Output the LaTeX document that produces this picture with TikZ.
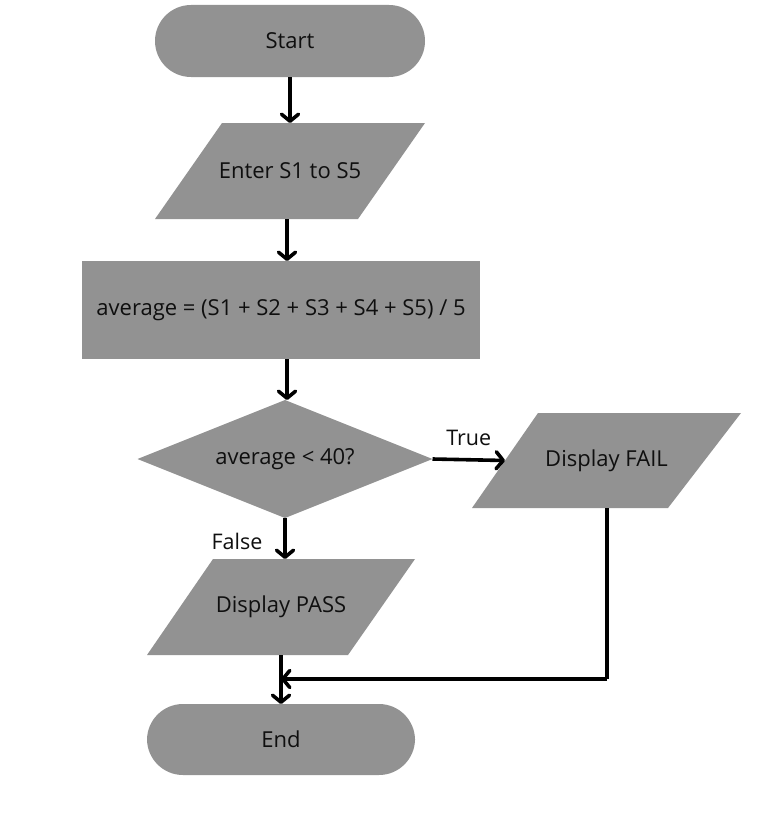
\documentclass[tikz,border=0pt]{standalone}
\usepackage{fontspec}
\setmainfont{Open Sans}
\usetikzlibrary{arrows.meta,shapes.geometric,backgrounds,calc}
\definecolor{shapegray}{RGB}{146,146,146}
\definecolor{inkc}{RGB}{15,15,15}
\begin{document}
\begin{tikzpicture}[x=1pt,y=-1pt,
  every node/.style={inner sep=0pt,outer sep=0pt,text=inkc,font=\fontsize{22}{26}\selectfont},
  term/.style={fill=shapegray,rounded corners=36pt,minimum width=270pt,minimum height=72pt},
  slot/.style={minimum height=96pt},
  procbox/.style={fill=shapegray,minimum width=398pt,minimum height=98pt},
  decbox/.style={diamond,aspect=2.5,fill=shapegray,minimum width=295pt,minimum height=118pt},
  lbl/.style={font=\fontsize{21.5}{25}\selectfont},
  conn/.style={line width=3.6pt,draw=black,-{Straight Barb[length=7pt,width=17pt,round]}},
  plain/.style={line width=3.6pt,draw=black}
]
\useasboundingbox (0,0) rectangle (756,816);

\node[term] (start) at (290,41) {Start};
\node[slot,minimum width=270pt] (enter) at (290,171) {Enter S1 to S5};
\node[procbox] (calc) at (281,310) {average = (S1 + S2 + S3 + S4 + S5) / 5};
\node[decbox] (dec) at (285,459) {average < 40?};
\node[slot,minimum width=269pt,minimum height=95pt] (fail) at (606.5,460.5) {Display FAIL};
\node[slot,minimum width=268pt] (pass) at (281,607) {Display PASS};
\node[term,minimum width=268pt,minimum height=71pt] (end) at (281,739.5) {End};

\begin{scope}[on background layer]
  \fill[shapegray] ($(enter.north west)+(67,0)$) -- (enter.north east) -- ($(enter.south east)+(-67,0)$) -- (enter.south west) -- cycle;
  \fill[shapegray] ($(fail.north west)+(66,0)$) -- (fail.north east) -- ($(fail.south east)+(-73,0)$) -- (fail.south west) -- cycle;
  \fill[shapegray] ($(pass.north west)+(66,0)$) -- (pass.north east) -- ($(pass.south east)+(-67,0)$) -- (pass.south west) -- cycle;
\end{scope}

\coordinate (failin) at ($(fail.west)+(33,0)$);
\coordinate (failout) at (607,508);
\coordinate (bend) at (607,679);

\draw[conn] (start.south) -- (enter.north);
\draw[conn] ($(enter.south)+(-3,0)$) -- ($(enter.south |- calc.north)+(-3,0)$);
\draw[conn] (calc.south -| dec.north) ++(2,0) -- ($(dec.north)+(2,0)$);
\draw[conn] (dec.east) -- node[lbl,above=14pt] {True} (failin);
\draw[conn] (dec.south) -- (dec.south |- pass.north);
\node[lbl] (falselbl) at (237,541) {False};
\draw[conn] (pass.south) -- (end.north);
\draw[plain] (failout) -- (bend);
\draw[conn] (bend) -- (bend -| pass.south);
\end{tikzpicture}
\end{document}
